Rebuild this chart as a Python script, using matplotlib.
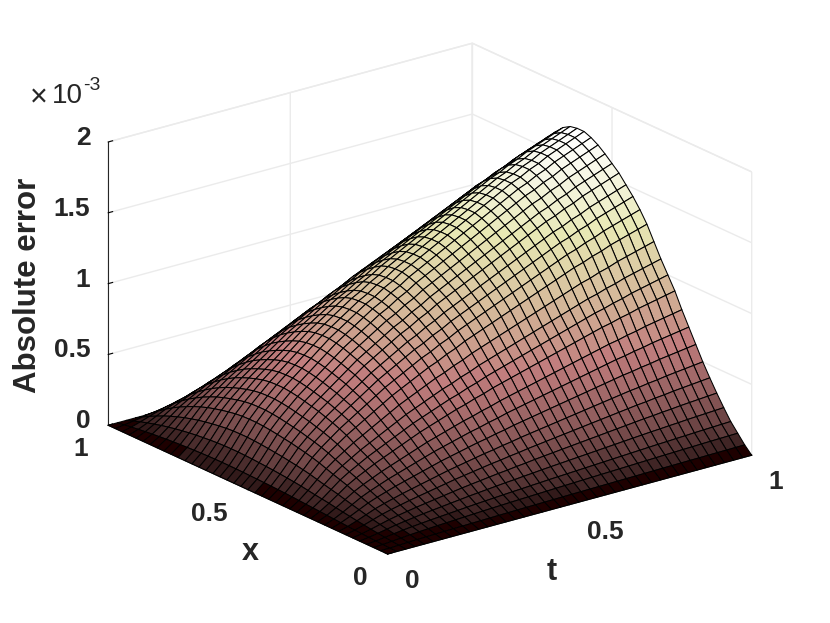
"""
Absolute error surface over x and t.
"""
import numpy as np
import matplotlib
matplotlib.use('Agg')
import matplotlib.pyplot as plt
from mpl_toolkits.mplot3d import proj3d

plt.rcParams['font.family'] = ['Liberation Sans', 'DejaVu Sans']

# grid, 41 nodes on each side
t_nodes = [i / 40 for i in range(41)]
x_nodes = [i / 40 for i in range(41)]

# error along the t=1 edge, in units of 1e-3
error_at_t1 = [0, .05, .11, .17, .245, .325, .41, .50, .60, .70, .80, .91, 1.00, 1.09,
               1.19, 1.29, 1.37, 1.44, 1.50, 1.56, 1.605, 1.65, 1.69, 1.72, 1.74, 1.74,
               1.73, 1.70, 1.65, 1.59, 1.52, 1.44, 1.34, 1.23, 1.10, .96, .80, .62,
               .43, .22, 0]
# relative growth of the error with t
growth_in_t = [0, .035, .08, .13, .18, .22, .255, .29, .32, .35, .38, .41, .44, .465,
               .49, .515, .54, .56, .585, .605, .63, .65, .67, .69, .71, .73, .75,
               .77, .79, .81, .83, .85, .87, .885, .905, .92, .94, .955, .97, .985, 1]

tick_values = [0, 0.5, 1]
tick_labels = ['0', '0.5', '1']
z_ticks = [0, 0.5, 1, 1.5, 2]
z_tick_labels = ['0', '0.5', '1', '1.5', '2']

T, X = np.meshgrid(t_nodes, x_nodes)
Z = np.outer(error_at_t1, growth_in_t)

text_colour = '#262626'
grid_colour = '#ebebeb'

fig = plt.figure(figsize=(8.3, 6.23), dpi=100)
ax = fig.add_axes([0.0079, 0.0072, 1.0, 1.0], projection='3d', proj_type='ortho')
ax.view_init(elev=20.7, azim=-127.5)
ax.set_box_aspect((1, 1, 0.66), zoom=1.116)

surf = ax.plot_surface(T, X, Z, rstride=1, cstride=1, cmap=plt.get_cmap('pink', 64),
                       vmin=0, vmax=max(error_at_t1), shade=False,
                       edgecolor='k', linewidth=0.75, antialiased=True)
# the square axes patch would cut off the right corner
surf.set_clip_on(False)

ax.set_xlim(0, 1, view_margin=0)
ax.set_ylim(0, 1, view_margin=0)
ax.set_zlim(0, 2, view_margin=0)
# labels are placed by hand below, 3d tick labels only take a pad
ax.set_xticks(tick_values, [''] * len(tick_values))
ax.set_yticks(tick_values, [''] * len(tick_values))
ax.set_zticks(z_ticks, [''] * len(z_ticks))

for axis in (ax.xaxis, ax.yaxis, ax.zaxis):
    axis.set_pane_color((1, 1, 1, 1))
    axis.pane.set_edgecolor(grid_colour)
    axis._axinfo['grid'].update(color=grid_colour, linewidth=1.0)
    axis._axinfo['tick'].update(inward_factor=0.0, outward_factor=0.15)
    axis.line.set_color(text_colour)
    axis.line.set_linewidth(0.8)


def tick_label(text, point, offset, align):
    px, py, _ = proj3d.proj_transform(*point, ax.get_proj())
    ax.annotate(text, xy=(px, py), xytext=offset, textcoords='offset pixels',
                ha=align, va='center', fontsize=19, fontweight='bold',
                color=text_colour, annotation_clip=False, zorder=20)


for value, label in zip(tick_values, tick_labels):
    tick_label(label, (value, 0, 0), (17, -27), 'left')
    tick_label(label, (0, value, 0), (-20, -24), 'right')
for value, label in zip(z_ticks, z_tick_labels):
    tick_label(label, (0, 1, value), (-18, 4), 'right')

fig.text(552 / 830, 1 - 572 / 623, 't', fontsize=22, fontweight='bold', color=text_colour,
         ha='center', va='center')
fig.text(250 / 830, 1 - 552 / 623, 'x', fontsize=22, fontweight='bold', color=text_colour,
         ha='center', va='center')
fig.text(28 / 830, 1 - 285 / 623, 'Absolute error', fontsize=22.5, fontweight='bold',
         color=text_colour, rotation=90, ha='center', va='center')

fig.text(30 / 830, 1 - 106 / 623, '\u00d7', fontsize=22, color=text_colour)
fig.text(52 / 830, 1 - 103 / 623, '10', fontsize=20, color=text_colour)
fig.text(83 / 830, 1 - 90 / 623, '-3', fontsize=14, color=text_colour)

fig.savefig('out.png', dpi=100)
